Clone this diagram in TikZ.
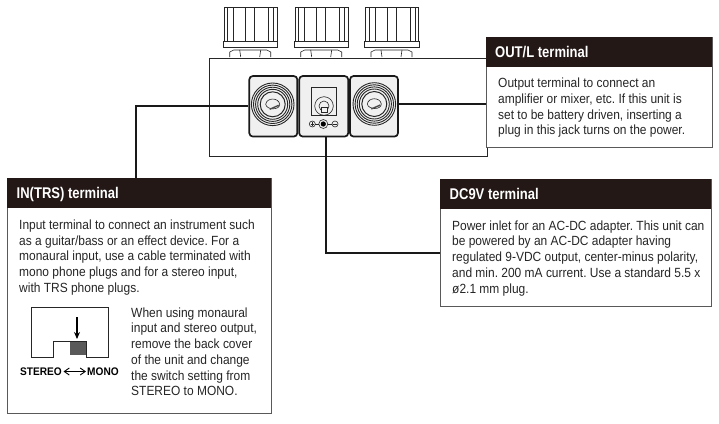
\documentclass[tikz,border=0pt]{standalone}
\usepackage{fontspec}
\setmainfont{Liberation Sans}
\usetikzlibrary{arrows.meta}
\definecolor{hd}{RGB}{35,24,21}
\frenchspacing
\newcommand{\hp}[1]{\fontsize{11}{11}\selectfont\bfseries\addfontfeature{FakeStretch=0.92}#1}
\tikzset{x=1pt,y=-1pt,
  box/.style={draw=black!65,line width=1pt,fill=white},
  head/.style={fill=hd},
  title/.style={text=white,anchor=base west,inner sep=0pt,font=\fontsize{15.5}{16}\selectfont\addfontfeature{FakeStretch=0.84}\bfseries},
  body/.style={anchor=base west,inner sep=0pt,align=left,text=black!85,font=\fontsize{13.3}{15.75}\selectfont\addfontfeature{FakeStretch=0.9}},
  wire/.style={line width=2.1pt,black!90},
  ln/.style={line width=.6pt,black!85},
  pane/.style={draw=black!90,line width=1.7pt,fill=black!6,rounded corners=3.5pt}}
\newcommand{\knob}[1]{%
 \begin{scope}[shift={(#1,0)}]
  \draw[ln,fill=white] (-26.5,7)--(-26.5,41)--(-27.5,41)--(-27.5,47.5)--(27,47.5)--(27,41)--(26.5,41)--(26.5,7)--cycle;
  \draw[ln] (-23,7)--(-23,41) (-17,7)--(-17,41) (-5,7)--(-5,41) (4,7)--(4,41) (18,7)--(18,41) (23,7)--(23,41);
  \draw[ln] (-27.5,41)--(27,41);
  \draw[ln,fill=white] (-21,57)--(-21,52)--(-17,50)--(16,50)--(20,52)--(20,57);
  \draw[ln] (-11,50)--(-10,57) (10,50)--(9,57);
 \end{scope}}
\newcommand{\jack}[1]{%
 \begin{scope}[shift={#1}]
  \foreach \r in {21.3,19.2,17.1,15} \draw[black!85,line width=.9pt] (0,0) circle (\r);
  \draw[black!85,line width=1pt,fill=black!6] (0,0) circle (12.5);
  \draw[ln] (-7,0) .. controls (-6,-7) and (6,-7) .. (7,0) .. controls (7,6) and (-6,6) .. (-7,0);
  \draw[black!70,line width=1.4pt] (-3,5)--(6,1);
 \end{scope}}
\begin{document}
\begin{tikzpicture}
\useasboundingbox (0,0) rectangle (719,423);
\fill[white] (0,0) rectangle (719,423);
\knob{250.7}\knob{321.7}\knob{392}
\node[draw=black!85,line width=.7pt,fill=white,minimum width=278pt,minimum height=98pt,inner sep=0pt,anchor=north west] (unit) at (208.5,57.5) {};
\node[pane,minimum width=48pt,minimum height=60.5pt,inner sep=0pt] (inp) at (273.3,106.3) {};
\node[pane,minimum width=49pt,minimum height=60.5pt,inner sep=0pt] (dc) at (323.7,106.3) {};
\node[pane,minimum width=48pt,minimum height=60.5pt,inner sep=0pt] (outp) at (374,106.3) {};
\jack{(272.7,104.3)}\jack{(374.3,104)}
\draw[line width=.9pt,black!85] (311.7,87.5) rectangle (336,115);
\draw[ln] (324,106) circle (9.3);
\draw[ln] (324,106) circle (5);
\draw[ln,fill=black!6] (321,107) rectangle (327,112);
\draw[ln] (312.3,124) circle (3) (335,124) circle (3) (323.3,124) circle (4.5);
\fill[black] (323.3,124) circle (2.6);
\draw[ln] (315.3,124)--(318.8,124) (327.8,124)--(332,124) (310.5,124)--(314.1,124) (312.3,122.2)--(312.3,125.8) (333.2,124)--(336.8,124);
% text boxes
\node[box,anchor=north west,minimum width=225.7pt,minimum height=110.6pt,inner sep=0pt] (outbox) at (486,36.7) {};
\fill[head] (486,36.7) rectangle (711.7,66.7);
\node[title] (outt) at (495,57) {OUT/L terminal};
\node[body] (outb) at (498,134.75) {Output terminal to connect an\\amplifier or mixer, etc. If this unit is\\set to be battery driven, inserting a\\plug in this jack turns on the power.};
\node[box,anchor=north west,minimum width=271pt,minimum height=126.7pt,inner sep=0pt] (dcbox) at (440.3,179.3) {};
\fill[head] (440.3,179.3) rectangle (711.3,209);
\node[title] (dct) at (449.5,199) {DC9V terminal};
\node[body] (dcb) at (452,293) {Power inlet for an AC-DC adapter. This unit can\\be powered by an AC-DC adapter having\\regulated 9-VDC output, center-minus polarity,\\and min. 200 mA current. Use a standard 5.5 x\\ø2.1 mm plug.};
\node[box,anchor=north west,minimum width=263.7pt,minimum height=235pt,inner sep=0pt] (inbox) at (7,178.3) {};
\fill[head] (7,178.3) rectangle (270.7,207.7);
\node[title] (int) at (16.5,198) {IN(TRS) terminal};
\node[body] (inb) at (19,292.3) {Input terminal to connect an instrument such\\as a guitar/bass or an effect device. For a\\monaural input, use a cable terminated with\\mono phone plugs and for a stereo input,\\with TRS phone plugs.};
\node[body] (inc) at (131,395.75) {When using monaural\\input and stereo output,\\remove the back cover\\of the unit and change\\the switch setting from\\STEREO to MONO.};
% switch figure
\draw[line width=.8pt,black!85] (53,357)--(31,357)--(31,307.5)--(108.7,307.5)--(108.7,357)--(86,357)--(86,341.5)--(53,341.5)--cycle;
\fill[black!65] (70,342) rectangle (86,355);
\coordinate (a1) at (77,317);\coordinate (a2) at (77,339);
\draw[line width=1.3pt,-{Stealth[length=7pt,width=6pt]}] (a1)--(a2);
\node[anchor=base east,inner sep=0pt] (st) at (62,375.5) {\hp{STEREO}};
\node[anchor=base west,inner sep=0pt] (mo) at (87,375.5) {\hp{MONO}};
\coordinate (da) at (63.5,371.5);\coordinate (db) at (86,371.5);
\draw[line width=.9pt,{Straight Barb[length=5pt,width=7pt]}-{Straight Barb[length=5pt,width=7pt]}] (da)--(db);
% connectors
\draw[wire] (inp.west) -- (135.7,106.3) -- (135.7,178.3);
\coordinate (oa) at (398,104);\coordinate (ob) at (486,104);
\draw[wire] (oa) -- (ob);
\draw[wire] ([xshift=2.3pt]dc.south) -- (326,253) -- (440.3,253);
\end{tikzpicture}
\end{document}
